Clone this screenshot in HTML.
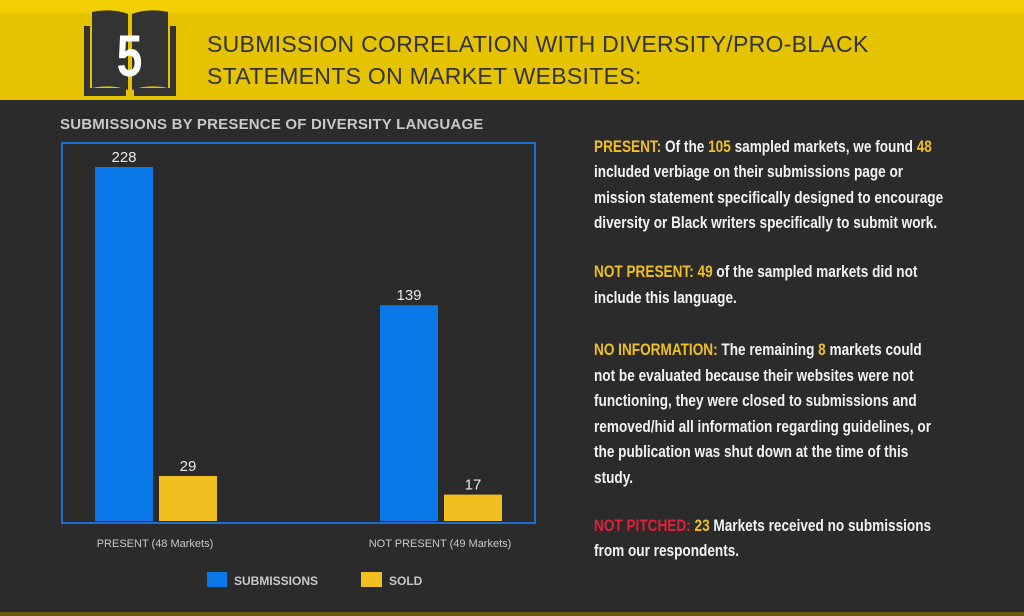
<!DOCTYPE html>
<html><head><meta charset="utf-8"><style>
body{margin:0;width:1024px;height:616px;overflow:hidden;background:#2b2b2b;font-family:"Liberation Sans",sans-serif;position:relative}
.abs{position:absolute}
.tl{position:absolute;left:594px;white-space:nowrap;font-weight:bold;font-size:17px;color:#f2f2f2;transform:scaleX(0.8);transform-origin:left center;line-height:20px}
.y{color:#f0c020}.r{color:#e0203a}
</style></head><body>
<div class="abs" style="left:0;top:0;width:1024px;height:100px;background:#e6c300"></div>
<div class="abs" style="left:0;top:0;width:1024px;height:13px;background:#f2cf00"></div>
<svg class="abs" style="left:80px;top:6px" width="100" height="96">
<path d="M4 20 L10 20 L10 82 L46 82 L46 90 L4 90 Z M96 20 L90 20 L90 82 L54 82 L54 90 L96 90 Z" fill="#333"/>
<path d="M12 6 Q32 2 48 8 L48 84 Q32 78 12 82 Z M88 6 Q68 2 52 8 L52 84 Q68 78 88 82 Z" fill="#333"/>
<text x="50" y="70" text-anchor="middle" font-family="Liberation Sans" font-weight="bold" font-size="58" fill="#fff" transform="scale(0.8,1) translate(12,0)">5</text>
</svg>
<div class="abs" style="left:207px;top:28px;font-size:23px;line-height:32px;color:#333;letter-spacing:0.3px">SUBMISSION CORRELATION WITH DIVERSITY/PRO-BLACK<br>STATEMENTS ON MARKET WEBSITES:</div>
<div class="abs" style="left:60px;top:116px;font-size:15px;font-weight:bold;color:#c8c8c8;letter-spacing:0.2px">SUBMISSIONS BY PRESENCE OF DIVERSITY LANGUAGE</div>
<svg class="abs" id="chart" style="left:0;top:0" width="580" height="616"></svg>
<div class="tl" style="top:137px"><span class="y">PRESENT:</span> Of the <span class="y">105</span> sampled markets, we found <span class="y">48</span></div>
<div class="tl" style="top:162px">included verbiage on their submissions page or</div>
<div class="tl" style="top:188px">mission statement specifically designed to encourage</div>
<div class="tl" style="top:213px">diversity or Black writers specifically to submit work.</div>
<div class="tl" style="top:262px"><span class="y">NOT PRESENT: 49</span> of the sampled markets did not</div>
<div class="tl" style="top:288px">include this language.</div>
<div class="tl" style="top:340px"><span class="y">NO INFORMATION:</span> The remaining <span class="y">8</span> markets could</div>
<div class="tl" style="top:366px">not be evaluated because their websites were not</div>
<div class="tl" style="top:391px">functioning, they were closed to submissions and</div>
<div class="tl" style="top:417px">removed/hid all information regarding guidelines, or</div>
<div class="tl" style="top:442px">the publication was shut down at the time of this</div>
<div class="tl" style="top:468px">study.</div>
<div class="tl" style="top:516px"><span class="r">NOT PITCHED:</span> <span class="y">23</span> Markets received no submissions</div>
<div class="tl" style="top:541px">from our respondents.</div>
<div class="abs" style="left:0;top:612px;width:1024px;height:4px;background:#6a5a10"></div>
<script>
const categories=["PRESENT (48 Markets)","NOT PRESENT (49 Markets)"];
const submissions=[228,139];
const sold=[29,17];
const svg=document.getElementById('chart');
const NS='http://www.w3.org/2000/svg';
const base=521, pxPer=354/228;
const y=v=>base-v*pxPer;
const groupX=i=>95+i*285;
function mk(t,a){const e=document.createElementNS(NS,t);for(const k in a)e.setAttribute(k,a[k]);svg.appendChild(e);return e;}
const frame=mk('rect',{x:62,y:143,width:473,height:380,fill:'none',stroke:'#1a6fd0','stroke-width':2});


categories.forEach((c,i)=>{
  const gx=groupX(i);
  const b=mk('rect',{x:gx,y:y(submissions[i]),width:58,height:base-y(submissions[i]),fill:'#0a78e8'});
  
  
  const s=mk('rect',{x:gx+64,y:y(sold[i]),width:58,height:base-y(sold[i]),fill:'#f0c020'});
  
  
  const t1=mk('text',{x:gx+29,y:y(submissions[i])-5,'text-anchor':'middle','font-size':15,fill:'#e8e8e8','font-family':'Liberation Sans'});
  t1.textContent=submissions[i];
  
  
  const t2=mk('text',{x:gx+93,y:y(sold[i])-5,'text-anchor':'middle','font-size':15,fill:'#e8e8e8','font-family':'Liberation Sans'});
  t2.textContent=sold[i];
  
  
  const cl=mk('text',{x:gx+60,y:547,'text-anchor':'middle','font-size':11,fill:'#c8c8c8','font-family':'Liberation Sans'});
  cl.textContent=c;
  
  
});
const l1=mk('rect',{x:207,y:572,width:20,height:15,fill:'#0a78e8'});


const lt1=mk('text',{x:234,y:585,'font-size':12,'font-weight':'bold',fill:'#c8c8c8','font-family':'Liberation Sans'});
lt1.textContent='SUBMISSIONS';


const l2=mk('rect',{x:361,y:572,width:21,height:15,fill:'#f0c020'});


const lt2=mk('text',{x:389,y:585,'font-size':12,'font-weight':'bold',fill:'#c8c8c8','font-family':'Liberation Sans'});
lt2.textContent='SOLD';


</script>
</body></html>
